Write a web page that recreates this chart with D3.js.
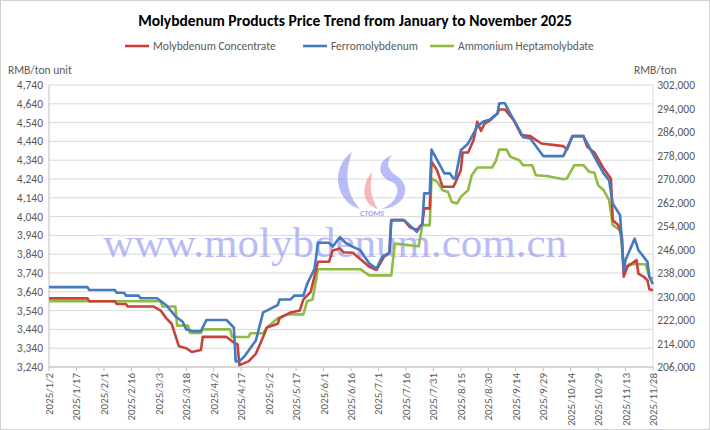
<!DOCTYPE html>
<html><head><meta charset="utf-8">
<script src="https://cdn.jsdelivr.net/npm/d3@7"></script>
<style>body{margin:0;background:#fff}svg{display:block;font-family:Calibri,Carlito,"Open Sans",sans-serif}</style>
</head><body><svg id="c" width="710" height="430"></svg>
<script>
// Days since 2025/1/2
const concDays=[0,21,22,36,37,42,43,57,61,64,67,71,75,78,83,84,97,101,103,104,109,113,117,119,125,126,130,132,137,139,143,146,147,153,155,159,161,166,175,179,183,186,187,194,197,201,204,205,208,209,212,215,221,225,226,229,232,234,236,238,241,245,246,249,254,258,263,266,269,281,283,286,292,294,298,303,307,308,311,313,314,316,321,322,325,327,328,330];
const concVals=[3605,3605,3590,3590,3575,3575,3562,3562,3540,3500,3470,3350,3340,3320,3330,3400,3400,3370,3360,3250,3270,3310,3400,3450,3470,3500,3520,3530,3540,3600,3640,3760,3800,3800,3860,3870,3850,3848,3773,3756,3826,3848,4021,4021,3985,3968,4003,4084,4084,4332,4287,4199,4199,4287,4381,4381,4448,4545,4496,4535,4552,4588,4610,4610,4552,4474,4468,4448,4429,4415,4396,4468,4468,4412,4381,4296,4243,4021,3995,3932,3720,3773,3809,3737,3720,3701,3653,3648];
const ferroDays=[0,21,22,36,37,41,42,49,50,59,64,69,73,75,79,83,86,97,101,102,104,107,113,117,119,125,126,132,134,139,141,145,147,153,155,159,162,166,170,175,179,182,186,187,194,201,204,205,208,209,216,219,221,222,225,229,231,234,237,241,245,246,249,252,257,259,263,270,281,286,292,297,303,306,308,312,313,314,315,320,322,327,328,330];
const ferroVals=[233200,233200,232200,232200,231300,231300,230300,230300,229400,229400,227100,223300,221400,218800,218200,218200,222000,222000,219400,207900,207900,209800,215000,224600,225200,227100,229000,229000,230300,230300,234200,239300,248300,248300,247000,250200,248300,246900,245800,241200,239500,243500,244900,256000,256000,252000,254800,265100,265100,280000,271900,271900,270200,270200,279800,282100,284400,287800,289500,290300,292300,295800,295800,292300,286700,284200,283800,277800,277800,284600,284600,278700,271900,269600,261700,257700,249200,238900,242400,249700,245800,241800,236700,234200];
const ammDays=[0,61,62,69,70,76,77,83,84,99,100,109,110,117,119,125,130,139,141,144,147,170,175,187,189,202,204,208,209,212,215,218,220,223,225,229,231,234,242,244,246,250,252,257,259,264,266,272,281,283,287,292,295,298,300,303,306,308,312,313,314,317,326,328,330];
const ammVals=[228400,228400,226600,226600,220100,220100,217600,217600,218800,218800,216200,216200,217500,217500,219400,222600,223900,223900,228400,229000,239300,239300,237200,237200,248000,247100,254300,254300,270200,269100,266200,265600,262200,261700,263900,266200,271300,273900,273900,275900,280000,280000,277600,276400,274700,274700,271300,271000,269900,270200,274700,274700,272500,272100,267900,266200,262800,254300,252600,246900,239500,241000,241000,236700,236100];
const leftTicks=d3.range(3240,4741,100);
const rightTicks=d3.range(206000,302001,8000);
const xTickLabels=["2025/1/2","2025/1/17","2025/2/1","2025/2/16","2025/3/3","2025/3/18","2025/4/2","2025/4/17","2025/5/2","2025/5/17","2025/6/1","2025/6/16","2025/7/1","2025/7/16","2025/7/31","2025/8/15","2025/8/30","2025/9/14","2025/9/29","2025/10/14","2025/10/29","2025/11/13","2025/11/28"];
const names=["Molybdenum Concentrate","Ferromolybdenum","Ammonium Heptamolybdate"];
const colors=["#c8413b","#4579c0","#8fbb45"];

const svg=d3.select("#c");
svg.append("rect").attr("x",0.5).attr("y",0.5).attr("width",709).attr("height",429).attr("fill","#fff").attr("stroke","#d0d0d0");
const L=49,R=653,T=85,B=367;
const base=new Date(2025,0,2);
const toDate=d=>d3.timeDay.offset(base,d);
const x=d3.scaleTime().domain([base,toDate(330)]).range([L,R]);
const yL=d3.scaleLinear().domain([3240,4740]).range([B,T]);
const yR=d3.scaleLinear().domain([206000,302000]).range([B,T]);

svg.append("g").selectAll("line").data(leftTicks).join("line")
 .attr("x1",L).attr("x2",R).attr("y1",d=>yL(d)).attr("y2",d=>yL(d)).attr("stroke","#d9d9d9");
svg.append("line").attr("x1",L).attr("x2",L).attr("y1",T).attr("y2",B).attr("stroke","#bfbfbf");
svg.append("line").attr("x1",R).attr("x2",R).attr("y1",T).attr("y2",B).attr("stroke","#d9d9d9");
svg.append("line").attr("x1",L).attr("x2",R).attr("y1",B).attr("y2",B).attr("stroke","#bfbfbf");

const wm=svg.append("g");
wm.append("path").attr("d","M352,152 C330,167 335,202 360,209 C345,192 345,172 352,152Z").attr("fill","#8a8ff0").attr("opacity",0.6);
wm.append("path").attr("d","M372,172 C360,187 362,204 378,209 C370,197 370,185 372,172Z").attr("fill","#f08a8a").attr("opacity",0.6);
wm.append("path").attr("d","M392,155 C375,162 378,177 392,182 C402,187 398,202 382,209 C405,207 412,187 398,177 C386,169 386,162 392,155Z").attr("fill","#8a8ff0").attr("opacity",0.6);
wm.append("text").attr("x",372).attr("y",216).attr("text-anchor","middle").attr("font-size",8).attr("font-weight","bold").attr("font-style","italic").attr("fill","#8a8ff0").attr("opacity",0.8).text("CTOMS");
wm.append("text").attr("x",335).attr("y",257).attr("text-anchor","middle").attr("font-family","'Liberation Serif','DejaVu Serif',serif").attr("font-size",43).attr("fill","#8a8ff0").attr("opacity",0.6).text("www.molybdenum.com.cn");

svg.append("g").selectAll("text").data(leftTicks).join("text")
 .attr("x",L-6).attr("y",d=>yL(d)+4).attr("text-anchor","end").attr("font-size",11.5).attr("fill","#595959").text(d3.format(","));
svg.append("g").selectAll("text").data(rightTicks).join("text")
 .attr("x",R+42).attr("y",d=>yR(d)+4).attr("text-anchor","end").attr("font-size",11.5).attr("fill","#595959").text(d3.format(","));
const xt=svg.append("g");
xTickLabels.forEach((s,i)=>{
 const p=s.split("/").map(Number);const dt=new Date(p[0],p[1]-1,p[2]);const px=x(dt);
 xt.append("line").attr("x1",px).attr("x2",px).attr("y1",B).attr("y2",B+4).attr("stroke","#bfbfbf");
 xt.append("text").attr("transform",`translate(${px+4},${B+6}) rotate(-90)`).attr("text-anchor","end").attr("font-size",11).attr("fill","#595959").text(s);
});
svg.append("text").attr("x",8).attr("y",74).attr("font-size",11.5).attr("fill","#595959").text("RMB/ton unit");
svg.append("text").attr("x",634).attr("y",74).attr("font-size",11.5).attr("fill","#595959").text("RMB/ton");

svg.append("text").attr("x",355).attr("y",26).attr("text-anchor","middle").attr("font-size",15.5).attr("font-weight","bold").attr("fill","#000").text("Molybdenum Products Price Trend from January to November 2025");

const mk=(days,vals,sc)=>d3.line().x((d,i)=>x(toDate(days[i]))).y((d,i)=>sc(vals[i]))(vals);
const series=[[concDays,concVals,yL],[ferroDays,ferroVals,yR],[ammDays,ammVals,yR]];
[2,0,1].forEach(k=>{const s=series[k];
 svg.append("path").attr("d",mk(s[0],s[1],s[2])).attr("fill","none").attr("stroke",colors[k]).attr("stroke-width",2.6).attr("stroke-linejoin","round");});

const lx=[125,303,430];
names.forEach((n,i)=>{
 svg.append("line").attr("x1",lx[i]).attr("x2",lx[i]+24).attr("y1",46).attr("y2",46).attr("stroke",colors[i]).attr("stroke-width",2.6);
 svg.append("text").attr("x",lx[i]+28).attr("y",50).attr("font-size",11.5).attr("fill","#595959").text(n);
});
</script></body></html>
